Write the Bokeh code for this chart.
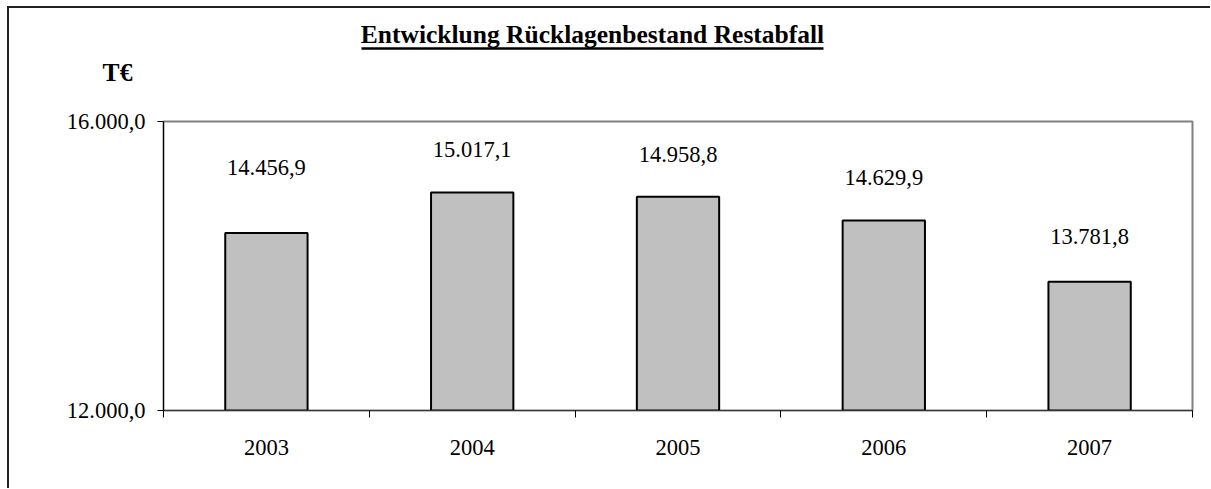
from bokeh.plotting import figure
from bokeh.layouts import column
from bokeh.models import FixedTicker, Label, BoxAnnotation, Range1d
from bokeh.core.properties import value
from bokeh.embed import file_html
from bokeh.resources import INLINE

# ---- data ----
years = ["2003", "2004", "2005", "2006", "2007"]
amounts = [14456.9, 15017.1, 14958.8, 14629.9, 13781.8]
amount_labels = ["14.456,9", "15.017,1", "14.958,8", "14.629,9", "13.781,8"]
y_tick_values = [12000, 16000]
y_tick_labels = ["12.000,0", "16.000,0"]
title_text = "Entwicklung Rücklagenbestand Restabfall"
unit_text = "T€"

# ---- styling ----
label_offsets_px = [65, 43, 42, 43, 45]
FONT = "Liberation Serif"
W = 1201
TOP_H = 93            # header strip (title, unit)
H = 387               # chart part
FL, FT, FR, FB = 154, 20, 1183, 309  # frame edges in chart canvas px

xs = [i + 0.5 for i in range(len(years))]
boundaries = list(range(len(years) + 1))

# ---- header strip: frame covers the whole canvas, 1 data unit = 1 px, y downward ----
head = figure(width=W, height=TOP_H, x_range=Range1d(0, W), y_range=Range1d(TOP_H, 0),
              x_axis_type=None, y_axis_type=None, min_border=0,
              output_backend="svg", toolbar_location=None,
              background_fill_color="white", border_fill_color="white")
head.frame_align = False
head.outline_line_color = None
head.grid.visible = False
head.add_layout(Label(x=583, y=26, text=title_text, text_align="center",
                      text_baseline="alphabetic", text_font=FONT,
                      text_font_style="bold", text_font_size="25.5px", text_color="black"))
head.add_layout(BoxAnnotation(left=352, right=814, top=38.7, bottom=41.3,
                              fill_color="black", fill_alpha=1.0, line_color=None))
head.add_layout(Label(x=108, y=64, text=unit_text, text_align="center",
                      text_baseline="alphabetic", text_font=FONT,
                      text_font_style="bold", text_font_size="25.5px", text_color="black"))

# ---- chart ----
p = figure(
    width=W, height=H,
    x_range=Range1d(0, len(years)),
    y_range=Range1d(y_tick_values[0], y_tick_values[-1]),
    output_backend="svg", toolbar_location=None,
    min_border_left=FL, min_border_top=FT,
    min_border_right=W - FR, min_border_bottom=H - FB,
    background_fill_color="white", border_fill_color="white",
)
p.frame_align = False
p.xgrid.visible = False
p.ygrid.visible = False
p.outline_line_color = "#808080"
p.outline_line_width = 2

p.vbar(x=xs, top=amounts, bottom=y_tick_values[0], width=0.4,
       fill_color="#C0C0C0", line_color="black", line_width=2)

p.text(x=xs, y=amounts, text=amount_labels,
       y_offset=[-o for o in label_offsets_px],
       text_align="center", text_baseline="middle",
       text_font=value(FONT), text_font_size="22.5px", text_color="black")

xa = p.xaxis[0]
xa.ticker = FixedTicker(ticks=xs, minor_ticks=boundaries)
xa.major_label_overrides = {x: y for x, y in zip(xs, years)}
xa.major_tick_out = 0
xa.major_tick_in = 0
xa.minor_tick_out = 7
xa.minor_tick_in = 0
xa.minor_tick_line_color = "black"
xa.axis_line_color = "#333333"
xa.major_label_standoff = 22
xa.major_label_text_font = FONT
xa.major_label_text_font_size = "22.5px"
xa.major_label_text_color = "black"

ya = p.yaxis[0]
ya.ticker = FixedTicker(ticks=y_tick_values, minor_ticks=[])
ya.major_label_overrides = {v: l for v, l in zip(y_tick_values, y_tick_labels)}
ya.major_tick_out = 6
ya.major_tick_in = 0
ya.minor_tick_out = 0
ya.minor_tick_in = 0
ya.major_tick_line_color = "black"
ya.axis_line_color = "black"
ya.major_label_standoff = 12
ya.major_label_text_font = FONT
ya.major_label_text_font_size = "22.5px"
ya.major_label_text_color = "black"

layout = column(head, p, spacing=0,
                styles={"border-left": "2px solid #222222", "border-top": "2px solid #222222",
                        "margin-left": "7px", "margin-top": "6px"})

open("out.html", "w").write(file_html(layout, INLINE))
